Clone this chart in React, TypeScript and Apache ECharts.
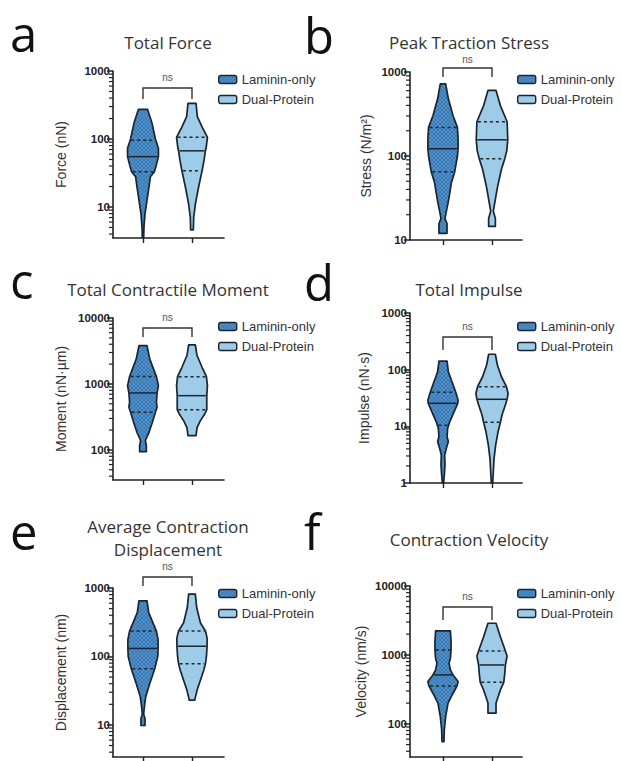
import React, { useEffect, useRef } from "react";
import * as echarts from "echarts";

// ---------- data ----------
const groupNames = ["Laminin-only", "Dual-Protein"];
const panelLetters = ["a", "b", "c", "d", "e", "f"];
const panelTitles = [
  "Total Force",
  "Peak Traction Stress",
  "Total Contractile Moment",
  "Total Impulse",
  "Average Contraction\nDisplacement",
  "Contraction Velocity",
];
const yAxisNames = [
  "Force (nN)",
  "Stress (N/m²)",
  "Moment (nN·µm)",
  "Impulse (nN·s)",
  "Displacement (nm)",
  "Velocity (nm/s)",
];
const yMin = [3.5, 10, 35, 1, 3.4, 33];
const yMax = [1000, 1000, 10000, 1000, 1000, 10000];
const sigLabels = ["ns", "ns", "ns", "ns", "ns", "ns"];

// violin profiles: [value, relative density], bottom -> top
const forceLaminin = [[3.5, 2], [5.2, 3], [8, 6], [12.6, 12], [20, 18], [28, 22], [33, 34], [42, 40], [55, 46], [73, 46], [100, 37], [170, 27], [273, 13.5]];
const forceDual = [[4.6, 4], [7, 5], [11, 10], [20, 20], [34, 30], [49, 36], [67, 40], [73, 42], [106, 46], [151, 30], [213, 16], [335, 12]];
const forceLamininQ = [33, 55, 96];
const forceDualQ = [34, 67, 106];

const stressLaminin = [[12, 12], [15.7, 12], [18, 6], [21, 9], [27.5, 15], [36, 20], [48, 25], [65, 35], [100, 43], [122, 45], [158, 45], [219, 43], [302, 30], [479, 16], [724, 8]];
const stressDual = [[14.5, 10], [18, 10], [22, 4], [27.5, 8], [44, 17], [69, 28], [93, 38], [115, 44], [156, 47], [256, 45], [398, 25], [603, 12]];
const stressLamininQ = [65, 122, 219];
const stressDualQ = [93, 156, 256];

const momentLaminin = [[94, 10], [116, 10], [139, 7], [185, 18], [263, 28], [372, 37], [443, 42], [527, 40], [731, 42], [944, 46], [1292, 40], [2400, 20], [3800, 12]];
const momentDual = [[165, 12], [218, 15], [278, 25], [351, 38], [408, 44], [665, 44], [944, 46], [1290, 43], [1790, 30], [2700, 15], [3900, 10]];
const momentLamininQ = [372, 731, 1292];
const momentDualQ = [408, 665, 1290];

const impulseLaminin = [[1, 2], [1.4, 4], [2.1, 6], [3.1, 5], [4.1, 10], [5.4, 16], [6.6, 12], [9.3, 14], [12, 20], [18, 33], [25.5, 44], [29, 45], [40, 38], [54, 30], [92, 16], [142, 12]];
const impulseDual = [[1, 2], [1.6, 4], [2.7, 6], [4.7, 11], [8, 18], [11.8, 25], [16, 30], [24, 40], [30, 45], [38, 48], [50, 43], [75, 28], [121, 16], [187, 10]];
const impulseLamininQ = [10.5, 25.5, 40];
const impulseDualQ = [11.8, 30, 50];

const displLaminin = [[9.8, 6], [12.3, 6], [14.5, 2], [18, 4], [25.7, 8], [40, 20], [66, 35], [100, 44], [131, 45], [176, 45], [235, 40], [437, 17], [650, 12]];
const displDual = [[23, 8], [32, 15], [45, 25], [63, 35], [78, 40], [100, 43], [141, 45], [187, 45], [235, 40], [311, 25], [518, 14], [815, 10]];
const displLamininQ = [66, 131, 235];
const displDualQ = [78, 141, 235];

const velocityLaminin = [[55, 3], [82, 4], [127, 8], [200, 15], [278, 30], [355, 42], [410, 45], [513, 30], [605, 22], [760, 18], [890, 22], [1180, 24], [1560, 24], [2230, 22]];
const velocityDual = [[143, 12], [200, 12], [310, 25], [400, 35], [540, 38], [715, 40], [965, 45], [1140, 40], [1840, 25], [2880, 12]];
const velocityLamininQ = [355, 513, 1180];
const velocityDualQ = [400, 715, 1140];

const profiles = [
  [forceLaminin, forceDual],
  [stressLaminin, stressDual],
  [momentLaminin, momentDual],
  [impulseLaminin, impulseDual],
  [displLaminin, displDual],
  [velocityLaminin, velocityDual],
];
const quartiles = [
  [forceLamininQ, forceDualQ],
  [stressLamininQ, stressDualQ],
  [momentLamininQ, momentDualQ],
  [impulseLamininQ, impulseDualQ],
  [displLamininQ, displDualQ],
  [velocityLamininQ, velocityDualQ],
];

// ---------- layout ----------
const FONT = "'Liberation Sans', Arial, sans-serif";
const TFONT = "'Open Sans', 'Liberation Sans', sans-serif";
const INK = "#1b2530";
const colLayout = [
  { gridLeft: 113, gridWidth: 111, xMin: -0.612, xMax: 1.653, legendLeft: 218, c1: 143, c2: 192, titleX: 168, letterX: 10, nameGap: 45 },
  { gridLeft: 410, gridWidth: 112, xMin: -0.673, xMax: 1.612, legendLeft: 517, c1: 443, c2: 492, titleX: 469, letterX: 304, nameGap: 37 },
];
const rowLayout = [
  { top: 71, height: 167, legendTop: 73, bracketY: 88, legY: 99, nsY: 77, titleTop: 31, letterY: 33 },
  { top: 72, height: 168, legendTop: 73, bracketY: 68, legY: 77, nsY: 59, titleTop: 31, letterY: 35 },
  { top: 318, height: 162, legendTop: 320, bracketY: 328, legY: 337, nsY: 317, titleTop: 278, letterY: 280 },
  { top: 313, height: 170, legendTop: 320, bracketY: 337, legY: 350, nsY: 326, titleTop: 278, letterY: 282 },
  { top: 588, height: 169, legendTop: 587, bracketY: 577, legY: 586, nsY: 566, titleTop: 515, letterY: 531 },
  { top: 586, height: 171, legendTop: 587, bracketY: 607, legY: 620, nsY: 596, titleTop: 528, letterY: 531 },
];
const nameGapAdj = [0, 0, 0, 2, 0, 5];
const DENSITY_MAX = 46;
const HALF_WIDTH_UNITS = 0.315;

function widthAt(profile: number[][], v: number) {
  const lv = Math.log10(v);
  for (let i = 0; i < profile.length - 1; i++) {
    const a = Math.log10(profile[i][0]);
    const b = Math.log10(profile[i + 1][0]);
    if (lv >= a && lv <= b) {
      const t = (lv - a) / (b - a || 1);
      return profile[i][1] + t * (profile[i + 1][1] - profile[i][1]);
    }
  }
  return profile[profile.length - 1][1];
}

function makeHatch() {
  const c = document.createElement("canvas");
  c.width = 4;
  c.height = 4;
  const ctx = c.getContext("2d")!;
  ctx.fillStyle = "#5192cd";
  ctx.fillRect(0, 0, 4, 4);
  ctx.fillStyle = "#3a78b2";
  for (let i = 0; i < 4; i++) {
    ctx.fillRect(i, i, 1, 1);
    ctx.fillRect(3 - i, i, 1, 1);
  }
  return { image: c.toDataURL(), repeat: "repeat", imageWidth: 4, imageHeight: 4 };
}

function isPow10(v: number) {
  const l = Math.log10(v);
  return Math.abs(l - Math.round(l)) < 1e-6;
}

function decadesIn(min: number, max: number) {
  const out: number[] = [];
  for (let k = Math.ceil(Math.log10(min) - 1e-9); k <= Math.floor(Math.log10(max) + 1e-9); k++) out.push(Math.pow(10, k));
  return out;
}

function minorValuesIn(min: number, max: number) {
  const out: number[] = [];
  for (let k = Math.floor(Math.log10(min)); k < Math.ceil(Math.log10(max)); k++) {
    for (let m = 2; m <= 9; m++) {
      const v = m * Math.pow(10, k);
      if (v > min * 1.0001 && v < max * 0.9999) out.push(v);
    }
  }
  return out;
}

function buildOption() {
  const hatch: any = makeHatch();
  const fills: any[] = [hatch, "#9dcbe8"];
  const grids: any[] = [];
  const xAxes: any[] = [];
  const yAxes: any[] = [];
  const series: any[] = [];
  const legends: any[] = [];
  const titles: any[] = [];
  const graphics: any[] = [];

  for (let i = 0; i < 6; i++) {
    const L = colLayout[i % 2];
    const R = rowLayout[i];
    const majors = decadesIn(yMin[i], yMax[i]);
    const minors = minorValuesIn(yMin[i], yMax[i]);
    grids.push({ left: L.gridLeft, top: R.top, width: L.gridWidth, height: R.height });
    xAxes.push({
      type: "value",
      gridIndex: i,
      min: L.xMin,
      max: L.xMax,
      axisLine: { show: true, onZero: false, lineStyle: { color: "#222", width: 1.6 } },
      axisTick: { show: true, customValues: [0, 1], length: 5, lineStyle: { color: "#222", width: 1.4 } },
      axisLabel: { show: false },
      splitLine: { show: false },
    });
    yAxes.push({
      type: "log",
      logBase: 10,
      gridIndex: i,
      position: "left",
      min: yMin[i],
      max: yMax[i],
      name: yAxisNames[i],
      nameLocation: "middle",
      nameGap: L.nameGap + nameGapAdj[i],
      nameTextStyle: { fontSize: 14, color: "#333", fontFamily: FONT },
      axisLine: { show: true, onZero: false, lineStyle: { color: "#222", width: 1.6 } },
      axisTick: { show: true, customValues: majors, length: 6, lineStyle: { color: "#222", width: 1.5 } },
      axisLabel: {
        customValues: majors,
        formatter: (v: number) => (isPow10(v) ? String(Math.round(v)) : ""),
        fontSize: 11.5,
        fontWeight: "bold",
        color: "#222",
        fontFamily: FONT,
        margin: 3,
      },
      splitLine: { show: false },
      minorSplitLine: { show: false },
    });
    for (let g = 0; g < 2; g++) {
      const prof = profiles[i][g];
      const qs = quartiles[i][g];
      const fill = fills[g];
      series.push({
        type: "custom",
        name: groupNames[g],
        xAxisIndex: i,
        yAxisIndex: i,
        itemStyle: { color: fill, borderColor: INK, borderWidth: 1.4 },
        encode: { x: 0, y: 1 },
        data: [[g, qs[1]]],
        silent: true,
        clip: false,
        renderItem: (params: any, api: any) => {
          const x = api.value(0);
          const s = HALF_WIDTH_UNITS / DENSITY_MAX;
          const right = prof.map(([v, d]) => api.coord([x + d * s, v]));
          const left = prof
            .slice()
            .reverse()
            .map(([v, d]) => api.coord([x - d * s, v]));
          const children: any[] = [
            {
              type: "polygon",
              shape: { points: right.concat(left) },
              style: { fill, stroke: INK, lineWidth: 1.7, lineJoin: "round" },
            },
          ];
          qs.forEach((q, k) => {
            const d = widthAt(prof, q);
            const p1 = api.coord([x - d * s, q]);
            const p2 = api.coord([x + d * s, q]);
            children.push({
              type: "line",
              shape: { x1: p1[0] + 1, y1: p1[1], x2: p2[0] - 1, y2: p2[1] },
              style: { stroke: INK, lineWidth: 1.5, lineDash: k === 1 ? null : [3, 3] },
            });
          });
          // minor log ticks on the y axis (x = axis origin, y through the log scale)
          if (x === 0) {
            const axisX = api.coord([L.xMin, majors[0]])[0];
            minors.forEach((v) => {
              const p = api.coord([L.xMin, v]);
              children.push({
                type: "line",
                shape: { x1: axisX - 4, y1: p[1], x2: axisX, y2: p[1] },
                style: { stroke: "#222", lineWidth: 1.2 },
              });
            });
          }
          return { type: "group", children };
        },
      });
    }
    legends.push({
      orient: "vertical",
      left: L.legendLeft,
      top: R.legendTop,
      itemWidth: 18,
      itemHeight: 8,
      itemGap: 7,
      icon: "roundRect",
      selectedMode: false,
      padding: 0,
      textStyle: { fontSize: 13, color: "#333", fontFamily: FONT },
      itemStyle: { borderColor: INK, borderWidth: 1.4 },
      data: groupNames,
    });
    titles.push({
      text: panelTitles[i],
      left: L.titleX,
      top: R.titleTop,
      textAlign: "center",
      padding: 0,
      textStyle: { fontSize: 17, fontWeight: "normal", color: "#333", fontFamily: TFONT, lineHeight: 23 },
    });
    graphics.push({
      type: "text",
      x: L.letterX,
      y: R.letterY,
      style: { text: panelLetters[i], fontSize: 49, fontFamily: TFONT, fill: "#111", textVerticalAlign: "middle" },
    });
    graphics.push({
      type: "polyline",
      shape: { points: [[L.c1, R.legY], [L.c1, R.bracketY], [L.c2, R.bracketY], [L.c2, R.legY]] },
      style: { stroke: "#333", lineWidth: 1.4, fill: null },
    });
    graphics.push({
      type: "text",
      x: (L.c1 + L.c2) / 2,
      y: R.nsY,
      style: { text: sigLabels[i], fontSize: 10, fontFamily: FONT, fill: "#555", textAlign: "center", textVerticalAlign: "middle" },
    });
  }

  return {
    animation: false,
    backgroundColor: "#ffffff",
    title: titles,
    legend: legends,
    grid: grids,
    xAxis: xAxes,
    yAxis: yAxes,
    series,
    graphic: graphics,
  };
}

export default function App() {
  const ref = useRef<HTMLDivElement>(null);
  useEffect(() => {
    const chart = echarts.init(ref.current!, null, { renderer: "svg" });
    chart.setOption(buildOption() as any);
    return () => chart.dispose();
  }, []);
  return <div ref={ref} style={{ position: "fixed", left: 0, top: 0, width: 622, height: 761, background: "#fff" }} />;
}
